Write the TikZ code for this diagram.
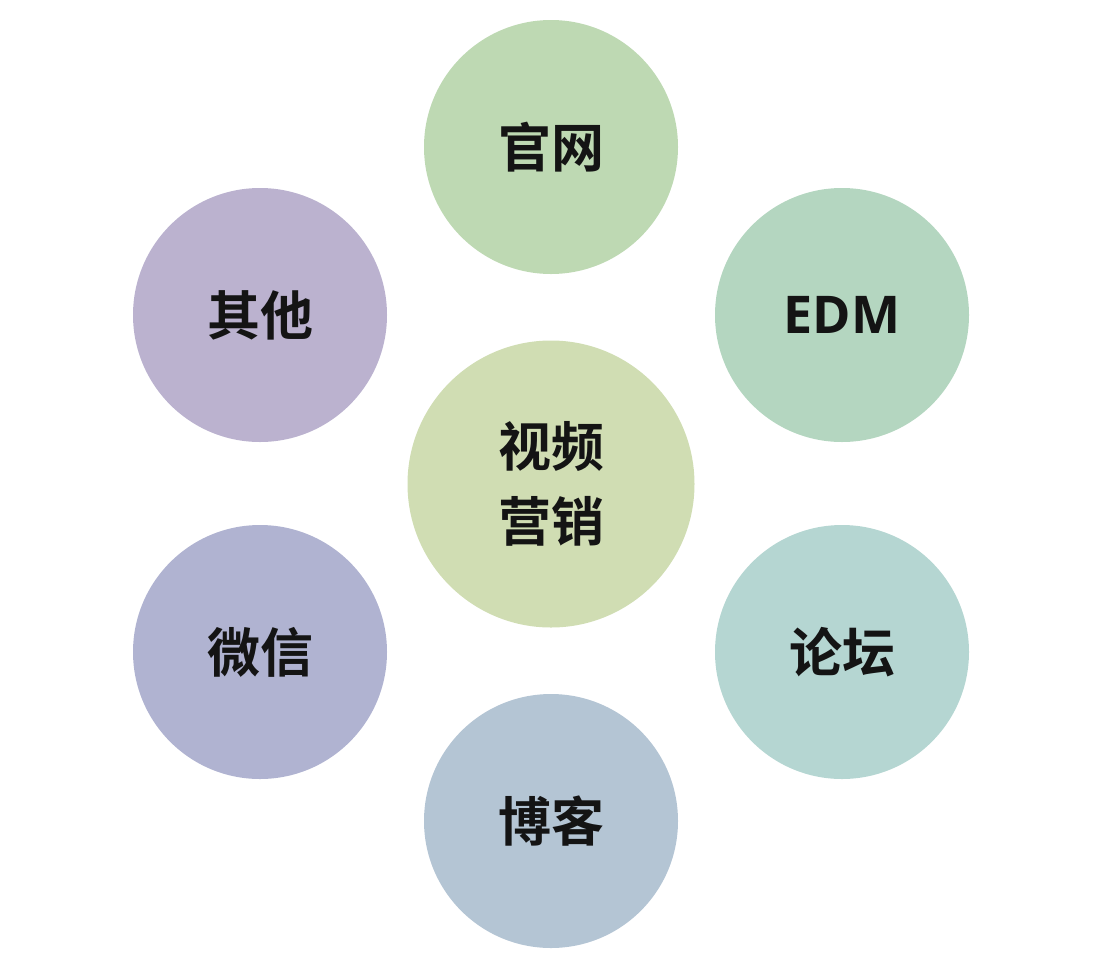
\documentclass[tikz,border=0pt]{standalone}
\usepackage{fontspec}
\newfontfamily\cjk{Noto Sans CJK SC Bold}
\newfontfamily\latn{Open Sans}[BoldFont={* Bold}]
\definecolor{cTop}{HTML}{BED9B3}
\definecolor{cEDM}{HTML}{B4D6C0}
\definecolor{cLun}{HTML}{B5D6D2}
\definecolor{cBo}{HTML}{B4C5D4}
\definecolor{cWx}{HTML}{B0B3D1}
\definecolor{cQt}{HTML}{BBB2CF}
\definecolor{cMid}{HTML}{D0DDB3}
\begin{document}
\begin{tikzpicture}[x=1pt,y=-1pt,
  bub/.style={circle,draw=none,minimum size=254pt,inner sep=0pt,
    font=\cjk\fontsize{53}{60}\selectfont,text=black!92,align=center}]
\useasboundingbox (0,0) rectangle (1098,962);
\node[bub,fill=cMid,minimum size=287pt,font=\cjk\fontsize{53}{75}\selectfont] (mid) at (551,484) {视频\\营销};
\node[bub,fill=cTop] (top) at (551,147) {官网};
\node[bub,fill=cEDM,font=\latn\bfseries\fontsize{52}{60}\selectfont] (edm) at (842,315) {EDM};
\node[bub,fill=cLun] (lun) at (842,652) {论坛};
\node[bub,fill=cBo] (bo) at (551,821) {博客};
\node[bub,fill=cWx] (wx) at (260,652) {微信};
\node[bub,fill=cQt] (qt) at (260,315) {其他};
\end{tikzpicture}
\end{document}
